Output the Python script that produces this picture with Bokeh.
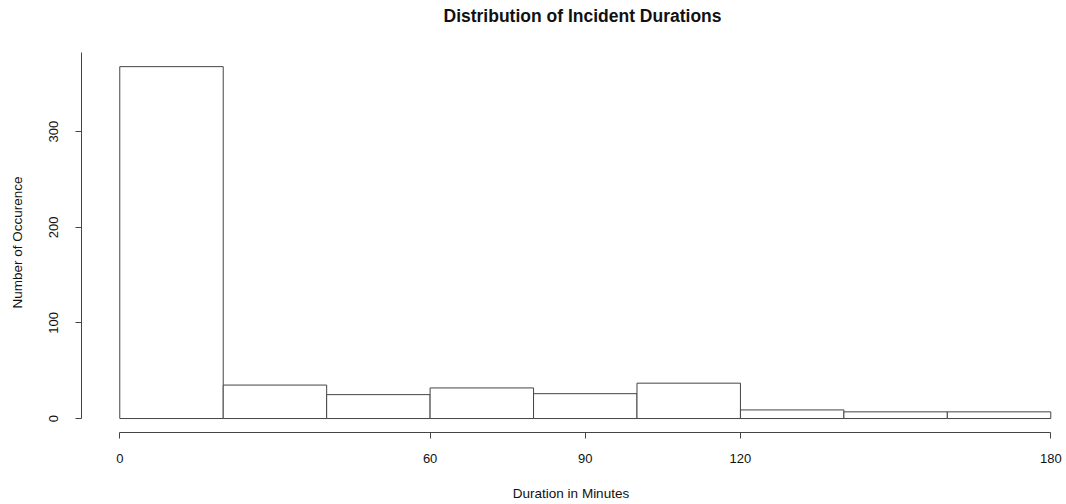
from bokeh.plotting import figure
from bokeh.models import Range1d, FixedTicker
from bokeh.embed import file_html
from bokeh.resources import INLINE

# ---- data ----
bin_edges = [0, 20, 40, 60, 80, 100, 120, 140, 160, 180]
counts = [368, 35, 25, 32, 26, 37, 9, 7, 7]
x_ticks = [0, 60, 90, 120, 180]
y_ticks = [0, 100, 200, 300]
title_text = "Distribution of Incident Durations"
x_label = "Duration in Minutes"
y_label = "Number of Occurence"

FONT = "Liberation Sans"
INK = "#111111"
LINE = "#444444"

x0, x1 = -7.40, 181.88
y0, y1 = -14.6, 382.8

p = figure(width=1066, height=504, output_backend="svg", toolbar_location=None,
           x_range=Range1d(x0, x1), y_range=Range1d(y0, y1),
           min_border_left=81, min_border_right=6, min_border_top=52, min_border_bottom=72)
p.background_fill_color = "white"
p.border_fill_color = "white"
p.outline_line_color = None
p.xgrid.visible = False
p.ygrid.visible = False

p.quad(left=bin_edges[:-1], right=bin_edges[1:], bottom=0, top=counts,
       fill_color="white", line_color=LINE, line_width=1)

# title
p.title.text = title_text
p.title.text_font = FONT
p.title.text_font_style = "bold"
p.title.text_font_size = "17.5px"
p.title.text_color = INK
p.title.align = "left"
p.title.offset = 362
p.title.standoff = 0
p.title.padding = (0, 0, 0, 27)

# x axis
xa = p.xaxis[0]
xa.ticker = FixedTicker(ticks=x_ticks, minor_ticks=[])
xa.bounds = (bin_edges[0], bin_edges[-1])
xa.axis_label = x_label
for ax in (xa, p.yaxis[0]):
    ax.axis_line_color = LINE
    ax.major_tick_line_color = LINE
    ax.major_tick_out = 6
    ax.major_tick_in = 0
    ax.minor_tick_line_color = None
    ax.major_label_text_font = FONT
    ax.major_label_text_font_size = "13px"
    ax.major_label_text_color = INK
    ax.axis_label_text_font = FONT
    ax.axis_label_text_font_size = "13.5px"
    ax.axis_label_text_font_style = "normal"
    ax.axis_label_text_color = INK
xa.major_label_standoff = 15
xa.axis_label_standoff = 20

ya = p.yaxis[0]
ya.ticker = FixedTicker(ticks=y_ticks, minor_ticks=[])
ya.bounds = (0, y1)
ya.axis_label = y_label
ya.major_label_orientation = "vertical"
ya.major_label_standoff = 17
ya.axis_label_standoff = 22

open("out.html", "w").write(file_html(p, INLINE))
